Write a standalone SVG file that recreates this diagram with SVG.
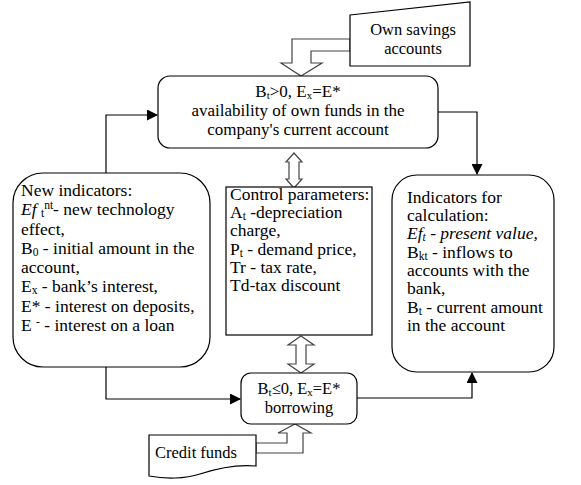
<svg xmlns="http://www.w3.org/2000/svg" width="581" height="485" viewBox="0 0 581 485" font-family="'Liberation Serif', 'DejaVu Serif', 'Times New Roman', serif">
<style>
  text { font-family: 'Liberation Serif', 'DejaVu Serif', 'Times New Roman', serif; font-size: 17.5px; fill: #000; }
  .c { text-anchor: middle; }
  .s { font-size: 11.5px; }
  .t17 { font-size: 17px; }
  .t17 .s { font-size: 11px; }
  .t16 { font-size: 16.5px; }
  .t16 .s { font-size: 11px; }
  .box { fill: #fff; stroke: #000; stroke-width: 1.2; }
  .ln { fill: none; stroke: #000; stroke-width: 1.2; }
  .blk { fill: #fff; stroke: #444; stroke-width: 1.2; }
</style>
<defs>
  <marker id="ah" markerUnits="userSpaceOnUse" markerWidth="11" markerHeight="11" refX="10" refY="5.5" orient="auto">
    <path d="M0,0 L11,5.5 L0,11 z" fill="#000"/>
  </marker>
</defs>
<rect width="581" height="485" fill="#fff"/>

<g id="connectors">
  <polyline class="ln" points="106,173 106,115 157,115" marker-end="url(#ah)"/>
  <polyline class="ln" points="438,112 477,112 477,174" marker-end="url(#ah)"/>
  <polyline class="ln" points="106,367 106,399 240,399" marker-end="url(#ah)"/>
  <polyline class="ln" points="357,398 472,398 472,373" marker-end="url(#ah)"/>
  <polygon class="blk" points="350,39 292,39 292,63 281,63 301,76 322,63 311,63 311,51 350,51"/>
  <polygon class="blk" points="256,443 287,443 287,433 278,433 295,424 311,433 303,433 303,453 256,453"/>
  <polygon class="blk" points="294,153 302,162 299,162 299,179 302,179 294,188 286,179 289,179 289,162 286,162"/>
  <polygon class="blk" points="301,336 314,345 306,345 306,364 314,364 301,373 288,364 296,364 296,345 288,345"/>
</g>

<g id="own-savings" class="t16">
  <polygon class="box" points="350,15 470,2 470,66 350,66"/>
  <text class="c t16" x="413" y="35">Own savings</text>
  <text class="c t16" x="413" y="54">accounts</text>
</g>

<g id="own-funds">
  <rect class="box" x="158" y="76" width="280" height="72" rx="12"/>
  <text class="c t17" x="298" y="97">B<tspan class="s" dy="2">t</tspan><tspan dy="-2">&gt;0, E</tspan><tspan class="s" dy="2">x</tspan><tspan dy="-2">=E*</tspan></text>
  <text class="c t17" x="298" y="116">availability of own funds in the</text>
  <text class="c t17" x="298" y="135">company's current account</text>
</g>

<g id="new-indicators">
  <rect class="box" x="13" y="173" width="197" height="194" rx="30"/>
  <text x="21" y="196">New indicators:</text>
  <text x="21" y="215"><tspan font-style="italic">Ef</tspan> <tspan class="s" dy="2">t</tspan><tspan class="s" dy="-8">nt</tspan><tspan dy="6">- new technology</tspan></text>
  <text x="21" y="235">effect,</text>
  <text x="21" y="254">B<tspan class="s" dy="2">0</tspan><tspan dy="-2"> - initial amount in the</tspan></text>
  <text x="21" y="273">account,</text>
  <text x="21" y="292">E<tspan class="s" dy="2">x</tspan><tspan dy="-2"> - bank’s interest,</tspan></text>
  <text x="21" y="312">E* - interest on deposits,</text>
  <text x="21" y="331">E <tspan class="s" dy="-6">-</tspan><tspan dy="6"> - interest on a loan</tspan></text>
</g>

<g id="control-parameters">
  <rect class="box" x="226" y="187" width="146" height="148"/>
  <text x="230" y="200">Control parameters:</text>
  <text x="230" y="218">A<tspan class="s" dy="2">t</tspan><tspan dy="-2"> -depreciation</tspan></text>
  <text x="230" y="236">charge,</text>
  <text x="230" y="255">P<tspan class="s" dy="2">t</tspan><tspan dy="-2"> - demand price,</tspan></text>
  <text x="230" y="273">Tr - tax rate,</text>
  <text x="230" y="291">Td-tax discount</text>
</g>

<g id="indicators-calculation">
  <rect class="box" x="392" y="175" width="162" height="197" rx="25"/>
  <text x="407" y="203">Indicators for</text>
  <text x="407" y="221">calculation:</text>
  <text x="407" y="239" font-style="italic">Ef<tspan class="s" dy="2">t</tspan><tspan dy="-2"> - present value,</tspan></text>
  <text x="407" y="258">B<tspan class="s" dy="2">kt</tspan><tspan dy="-2"> - inflows to</tspan></text>
  <text x="407" y="276">accounts with the</text>
  <text x="407" y="294">bank,</text>
  <text x="407" y="313">B<tspan class="s" dy="2">t</tspan><tspan dy="-2"> - current amount</tspan></text>
  <text x="407" y="331">in the account</text>
</g>

<g id="borrowing">
  <rect class="box" x="241" y="373" width="116" height="51" rx="10"/>
  <text class="c t16" x="299" y="394">B<tspan class="s" dy="2">t</tspan><tspan dy="-2">≤0, E</tspan><tspan class="s" dy="2">x</tspan><tspan dy="-2">=E*</tspan></text>
  <text class="c t16" x="299" y="413">borrowing</text>
</g>

<g id="credit-funds">
  <path class="box" d="M149,435 H256 V466 C236,464 215,469 200,474 C185,479 165,479 149,476 Z"/>
  <text class="t16" x="155" y="458">Credit funds</text>
</g>
</svg>
